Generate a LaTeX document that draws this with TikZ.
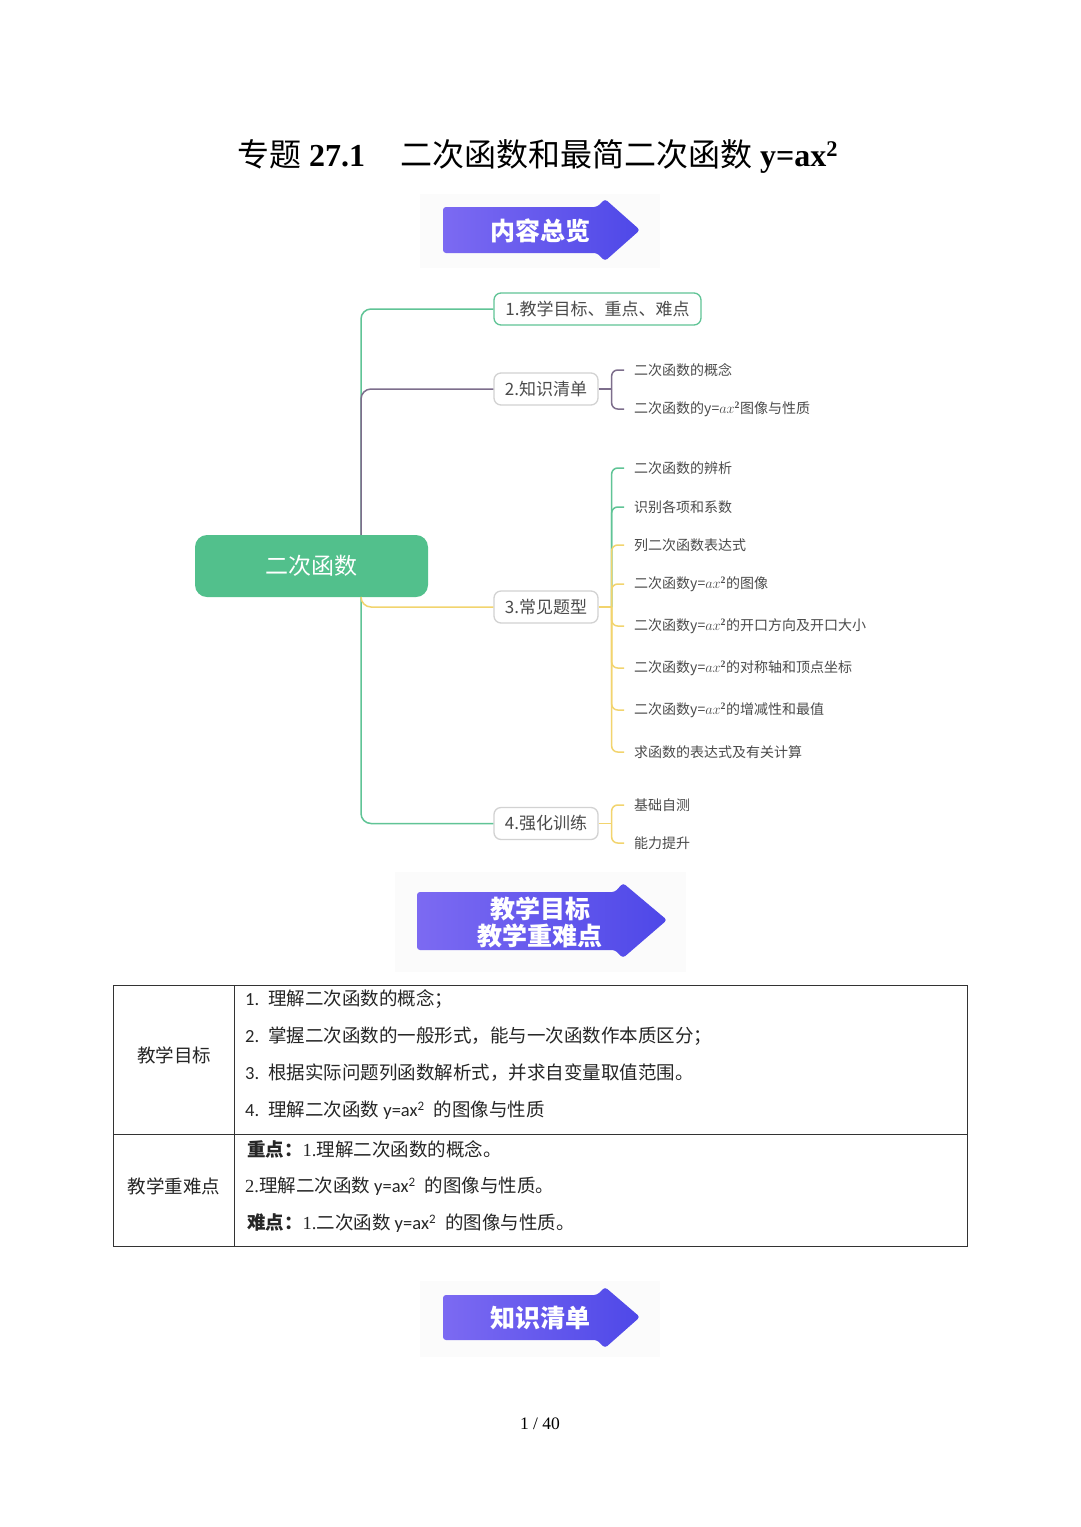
\documentclass[tikz,border=0pt]{standalone}
\usepackage{fontspec}
\setmainfont{Liberation Serif}
\newfontfamily\cjk{Noto Sans CJK SC}
\newfontfamily\cali{Carlito}
\definecolor{rootgreen}{RGB}{82,192,140}
\definecolor{linegreen}{RGB}{96,196,150}
\definecolor{linepurple}{RGB}{125,110,140}
\definecolor{lineyellow}{RGB}{242,212,110}
\definecolor{bordergray}{RGB}{210,210,210}
\definecolor{textgray}{RGB}{75,75,75}
\definecolor{bannerl}{RGB}{124,106,242}
\definecolor{bannerr}{RGB}{78,72,232}
\begin{document}
\begin{tikzpicture}[x=1pt,y=-1pt,
    banner/.style={rounded corners=3pt,left color=bannerl,right color=bannerr},
    bannertext/.style={text=white,align=center,font=\cjk\bfseries\fontsize{25}{27}\selectfont},
    branch/.style={draw=bordergray,fill=white,line width=1.3pt,rounded corners=7pt,
      minimum height=32pt,inner xsep=0pt,text=textgray,font=\cjk\fontsize{17}{20}\selectfont},
    leaf/.style={anchor=west,inner xsep=10pt,inner ysep=0pt,text=textgray,
      font=\cjk\fontsize{14}{16}\selectfont},
    green line/.style={draw=linegreen,line width=1.5pt},
    purple line/.style={draw=linepurple,line width=1.5pt},
    yellow line/.style={draw=lineyellow,line width=1.5pt}]
  \useasboundingbox[fill=white] (0,0) rectangle (1080,1527);

  % title
  \node[anchor=base west,inner sep=0pt,font=\bfseries\fontsize{32}{36}\selectfont] (title) at (237,166)
    {{\cjk\mdseries 专题} 27.1\hspace{35pt}{\cjk\mdseries 二次函数和最简二次函数} y=ax\textsuperscript{2}};

  % banners
  \fill[black!1.5] (420,194) rectangle (660,268);
  \path[banner] (443,207) -- (597,207) -- (605,199) -- (640,230) -- (605,261) -- (597,253) -- (443,253) -- cycle;
  \node[bannertext] (overview) at (540,231) {内容总览};

  \fill[black!1.5] (395,872) rectangle (686,972);
  \path[banner] (417,892) -- (615,892) -- (623,883) -- (667,920) -- (623,958) -- (615,950) -- (417,950) -- cycle;
  \node[bannertext] (goals) at (540,922) {教学目标\\教学重难点};

  \fill[black!1.5] (420,1281) rectangle (660,1357);
  \path[banner] (443,1295) -- (597,1295) -- (605,1287) -- (640,1317) -- (605,1348) -- (597,1340) -- (443,1340) -- cycle;
  \node[bannertext] (list) at (540,1318) {知识清单};

  % mind map
  \node[rounded corners=12pt,fill=rootgreen,text=white,minimum width=233pt,minimum height=62pt,
    font=\cjk\fontsize{23}{26}\selectfont] (root) at (311.5,566) {二次函数};
  \begin{scope}[every node/.style={branch,minimum width=104pt}]
    \node[draw=linegreen,minimum width=207pt] (n1) at (597.5,309) {1.教学目标、重点、难点};
    \node (n2) at (546,389) {2.知识清单};
    \node (n3) at (546,607) {3.常见题型};
    \node (n4) at (546,823.5) {4.强化训练};
  \end{scope}
  \begin{scope}[every node/.style={leaf}]
    \node (n2a) at (624,370) {二次函数的概念};
    \node (n2b) at (624,409) {二次函数的y=$ax^{\mathbf{2}}$图像与性质};
    \node (n3a) at (624,468) {二次函数的辨析};
    \node (n3b) at (624,507) {识别各项和系数};
    \node (n3c) at (624,545) {列二次函数表达式};
    \node (n3d) at (624,584) {二次函数y=$ax^{\mathbf{2}}$的图像};
    \node (n3e) at (624,626) {二次函数y=$ax^{\mathbf{2}}$的开口方向及开口大小};
    \node (n3f) at (624,668) {二次函数y=$ax^{\mathbf{2}}$的对称轴和顶点坐标};
    \node (n3g) at (624,710) {二次函数y=$ax^{\mathbf{2}}$的增减性和最值};
    \node (n3h) at (624,752) {求函数的表达式及有关计算};
    \node (n4a) at (624,805) {基础自测};
    \node (n4b) at (624,843) {能力提升};
  \end{scope}
  \coordinate (tk) at (361,0);
  \path (n2.east) ++(13,0) coordinate (b2);
  \path (n3.east) ++(13,0) coordinate (b3);
  \path (n4.east) ++(13,0) coordinate (b4);
  \begin{scope}[rounded corners=10pt]
    \draw[green line] (root.north -| tk) |- (n1);
    \draw[purple line] (root.north -| tk) |- (n2);
    \draw[green line] (root.south -| tk) |- (n4);
    \draw[yellow line] (root.south -| tk) |- (n3);
  \end{scope}
  \begin{scope}[rounded corners=6pt]
    \draw[purple line] (n2) -- (b2);
    \foreach \l in {n2a,n2b} \draw[purple line] (b2) |- (\l);
    \foreach \l in {n3a,n3b} \draw[green line] (b3) |- (\l);
    \draw[yellow line] (n3) -- (b3);
    \foreach \l in {n3c,n3d,n3e,n3f,n3g,n3h} \draw[yellow line] (b3) |- (\l);
    \draw[yellow line] (n4) -- (b4);
    \foreach \l in {n4a,n4b} \draw[yellow line] (b4) |- (\l);
  \end{scope}

  % table
  \draw[black!80,line width=1pt] (113,985) rectangle (967,1246);
  \draw[black!80,line width=1pt] (234,985) -- (234,1246);
  \draw[black!80,line width=1pt] (113,1134) -- (967,1134);
  \begin{scope}[every node/.style={inner sep=0pt,text=black!85,font=\cjk\fontsize{18.5}{21}\selectfont}]
    \node (goal) at (174,1055) {教学目标};
    \node (keys) at (174,1186) {教学重难点};
  \end{scope}
  \begin{scope}[every node/.style={anchor=west,inner sep=0pt,text=black!85,font=\cjk\fontsize{18.5}{21}\selectfont}]
    \node (t1) at (245,999) {{\cali 1.}\hspace{9pt}理解二次函数的概念；};
    \node (t2) at (245,1036) {{\cali 2.}\hspace{9pt}掌握二次函数的一般形式，能与一次函数作本质区分；};
    \node (t3) at (245,1073) {{\cali 3.}\hspace{9pt}根据实际问题列函数解析式，并求自变量取值范围。};
    \node (t4) at (245,1110) {{\cali 4.}\hspace{9pt}理解二次函数 {\cali y=ax\textsuperscript{2}}\hspace{9pt}的图像与性质};
    \node (t5) at (247,1149) {{\bfseries 重点：}{\rmfamily 1.}理解二次函数的概念。};
    \node (t6) at (245,1186) {{\rmfamily 2.}理解二次函数 {\cali y=ax\textsuperscript{2}}\hspace{9pt}的图像与性质。};
    \node (t7) at (247,1223) {{\bfseries 难点：}{\rmfamily 1.}二次函数 {\cali y=ax\textsuperscript{2}}\hspace{9pt}的图像与性质。};
  \end{scope}

  % page number
  \node[font=\fontsize{17.5}{20}\selectfont] (page) at (540,1424) {1 / 40};
\end{tikzpicture}
\end{document}
